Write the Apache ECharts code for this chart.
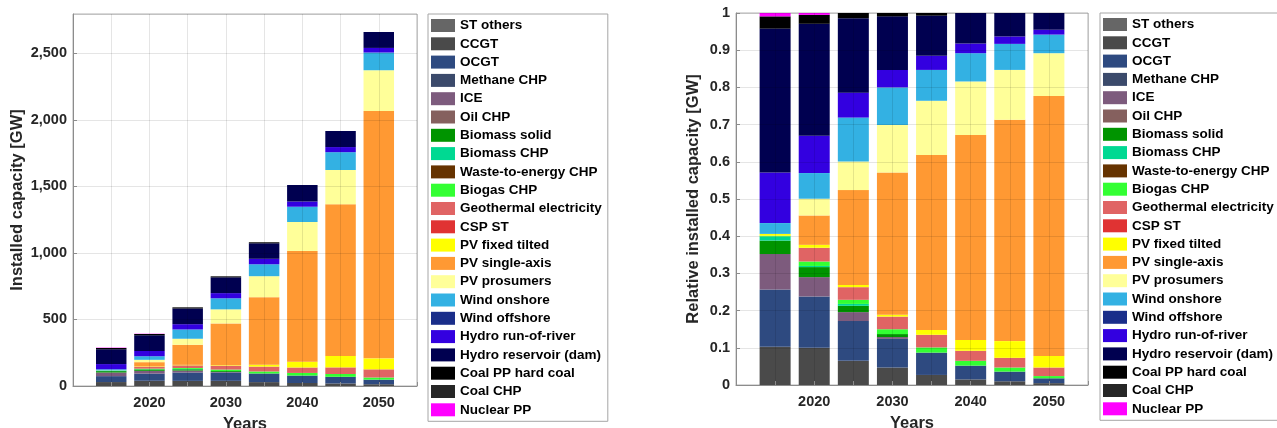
<!DOCTYPE html>
<html>
<head>
<meta charset="utf-8">
<script src="https://cdn.jsdelivr.net/npm/echarts@6/dist/echarts.min.js"></script>
<style>
html,body{margin:0;padding:0;background:#fff;}
#chart{width:1277px;height:428px;}
</style>
</head>
<body>
<div id="chart"></div>
<script>
// ---- Data (GW) ----
var axisYears = ['2010', '2015', '2020', '2025', '2030', '2035', '2040', '2045', '2050', '2055'];
var years = [2015, 2020, 2025, 2030, 2035, 2040, 2045, 2050];
var xTickLabels = ['2020', '2030', '2040', '2050'];

var stOthers     = [0, 0, 0, 0, 0, 0, 0, 0];
var ccgt         = [29.7, 39.3, 38.4, 38.7, 29.2, 22.7, 19.2, 13.3];
var ocgt         = [44.4, 54.2, 63.2, 63.4, 64.8, 55.9, 49.8, 34.6];
var methaneChp   = [0, 0, 0, 0, 0, 0, 0, 0];
var ice          = [27.4, 20.4, 14.2, 4.1, 0, 0, 0, 0];
var oilChp       = [0, 0, 0, 0, 0, 0, 0, 0];
var biomassSolid = [10.4, 10.6, 10.0, 6.6, 0, 0, 0, 0];
var biomassChp   = [3.2, 1.2, 3.0, 0, 0, 0, 0, 0];
var wasteChp     = [0, 0, 0, 0, 0, 0, 0, 0];
var biogasChp    = [0.6, 4.7, 6.5, 10.7, 15.1, 19.6, 21.1, 16.0];
var geothermal   = [0, 14.5, 20.1, 28.0, 36.7, 40.8, 49.8, 61.2];
var cspSt        = [0, 0, 0, 0, 0, 0, 0, 0];
var pvFixed      = [1.4, 3.1, 3.5, 4.1, 14.0, 43.8, 86.2, 82.5];
var pvSingle     = [0, 31.0, 150.7, 314.8, 507.6, 832, 1140, 1859];
var pvProsumers  = [0, 17.7, 45.5, 105.5, 157.7, 217.4, 256.7, 305.9];
var windOn       = [8.4, 27.1, 69.7, 83.2, 89.6, 114.8, 134.1, 133.0];
var windOff      = [0, 0, 0, 0, 0, 0, 0, 0];
var hydroRor     = [39.2, 39.3, 39.6, 38.7, 41.0, 39.3, 38.3, 34.6];
var hydroRes     = [111.5, 118.3, 118.2, 118.7, 116.6, 123.8, 120.7, 119.7];
var coalHard     = [9.5, 9.4, 8.3, 7.4, 7.6, 0, 0, 0];
var coalChp      = [0, 0, 0, 0, 0, 0, 0, 0];
var nuclear      = [2.6, 2.0, 0, 0, 0, 0, 0, 0];

var seriesNames = ['ST others','CCGT','OCGT','Methane CHP','ICE','Oil CHP','Biomass solid','Biomass CHP',
  'Waste-to-energy CHP','Biogas CHP','Geothermal electricity','CSP ST','PV fixed tilted','PV single-axis',
  'PV prosumers','Wind onshore','Wind offshore','Hydro run-of-river','Hydro reservoir (dam)',
  'Coal PP hard coal','Coal CHP','Nuclear PP'];
var seriesValues = [stOthers, ccgt, ocgt, methaneChp, ice, oilChp, biomassSolid, biomassChp,
  wasteChp, biogasChp, geothermal, cspSt, pvFixed, pvSingle, pvProsumers, windOn, windOff,
  hydroRor, hydroRes, coalHard, coalChp, nuclear];
var seriesColors = ['#666666','#4a4a4a','#2e4a80','#3b4a6b','#7d5b7d','#85605e','#009400','#00d992',
  '#663300','#33ff33','#e06464','#e03333','#ffff00','#ff9933','#ffff99','#33b1e3','#1a2e8a',
  '#3300e0','#000050','#000000','#262626','#ff00ff'];

// ---- Build ----
var totals = years.map(function(y, i){
  var s = 0; seriesValues.forEach(function(a){ s += a[i]; }); return s;
});

// place each year's value on its category; the 2010 / 2055 end slots stay empty
function onAxis(vals){
  return axisYears.map(function(c){
    var i = years.indexOf(Number(c));
    return i < 0 ? '-' : vals[i];
  });
}

var FONT = 'Liberation Sans';
var series = [];
seriesNames.forEach(function(name, k){
  series.push({
    name: name, type: 'bar', stack: 'abs', xAxisIndex: 0, yAxisIndex: 0,
    barWidth: 30.5, itemStyle: {color: seriesColors[k]},
    data: onAxis(seriesValues[k])
  });
  series.push({
    name: name, type: 'bar', stack: 'rel', xAxisIndex: 1, yAxisIndex: 1,
    barWidth: 31, itemStyle: {color: seriesColors[k]},
    data: onAxis(seriesValues[k].map(function(v, i){ return v / totals[i]; }))
  });
});

function xAxisCfg(gi){
  return {
    type: 'category', gridIndex: gi, data: axisYears, boundaryGap: false, z: 5,
    name: 'Years', nameLocation: 'middle', nameGap: 30,
    nameTextStyle: {fontFamily: FONT, fontWeight: 'bold', fontSize: 16.5, color: '#262626'},
    axisLine: {show: true, lineStyle: {color: '#8c8c8c'}},
    axisTick: {show: true, inside: true, length: 4, interval: 0, lineStyle: {color: '#8c8c8c'}},
    splitLine: {show: true, interval: 0, lineStyle: {color: 'rgba(0,0,0,0.1)'}},
    axisLabel: {
      interval: 0, margin: 9, fontFamily: FONT, fontWeight: 'bold', fontSize: 14.5, color: '#262626',
      formatter: function(v){ return xTickLabels.indexOf(String(v)) >= 0 ? String(v) : ''; }
    }
  };
}

var legendBase = {
  orient: 'vertical', icon: 'rect', itemWidth: 24, itemHeight: 13, itemGap: 4.3,
  padding: [4.5, 6, 4.5, 3], borderColor: '#a6a6a6', borderWidth: 1, backgroundColor: '#fff',
  height: 420,
  textStyle: {fontFamily: FONT, fontWeight: 'bold', fontSize: 13.5, color: '#000'},
  data: seriesNames, selectedMode: false
};

var option = {
  animation: false,
  backgroundColor: '#fff',
  grid: [
    {left: 73, top: 14, width: 344, height: 372, outerBoundsMode: 'none', containLabel: false,
     show: true, borderColor: '#b3b3b3', borderWidth: 1, backgroundColor: 'transparent'},
    {left: 736, top: 13, width: 352, height: 372, outerBoundsMode: 'none', containLabel: false,
     show: true, borderColor: '#b3b3b3', borderWidth: 1, backgroundColor: 'transparent'}
  ],
  legend: [
    Object.assign({}, legendBase, {left: 428, top: 14}),
    Object.assign({}, legendBase, {left: 1100, top: 13})
  ],
  xAxis: [xAxisCfg(0), xAxisCfg(1)],
  yAxis: [
    {
      type: 'value', gridIndex: 0, min: 0, max: 2795, interval: 500, z: 5,
      name: 'Installed capacity [GW]', nameLocation: 'middle', nameGap: 47.5,
      nameTextStyle: {fontFamily: FONT, fontWeight: 'bold', fontSize: 16.5, color: '#262626'},
      axisLine: {show: true, lineStyle: {color: '#8c8c8c'}},
      axisTick: {show: true, inside: true, length: 4, lineStyle: {color: '#8c8c8c'}},
      splitLine: {show: true, lineStyle: {color: 'rgba(0,0,0,0.1)'}},
      axisLabel: {margin: 6, showMaxLabel: false, fontFamily: FONT, fontWeight: 'bold', fontSize: 14.5, color: '#262626',
        formatter: function(v){ return v % 500 === 0 ? v.toLocaleString('en-US') : ''; }}
    },
    {
      type: 'value', gridIndex: 1, min: 0, max: 1, interval: 0.1, z: 5,
      name: 'Relative installed capacity [GW]', nameLocation: 'middle', nameGap: 34.5,
      nameTextStyle: {fontFamily: FONT, fontWeight: 'bold', fontSize: 16.5, color: '#262626'},
      axisLine: {show: true, lineStyle: {color: '#8c8c8c'}},
      axisTick: {show: true, inside: true, length: 4, lineStyle: {color: '#8c8c8c'}},
      splitLine: {show: true, lineStyle: {color: 'rgba(0,0,0,0.1)'}},
      axisLabel: {margin: 6, fontFamily: FONT, fontWeight: 'bold', fontSize: 14.5, color: '#262626',
        formatter: function(v){ return String(+v.toFixed(1)); }}
    }
  ],
  series: series
};

var chart = echarts.init(document.getElementById('chart'), null, {renderer: 'canvas'});
chart.setOption(option);
</script>
</body>
</html>
